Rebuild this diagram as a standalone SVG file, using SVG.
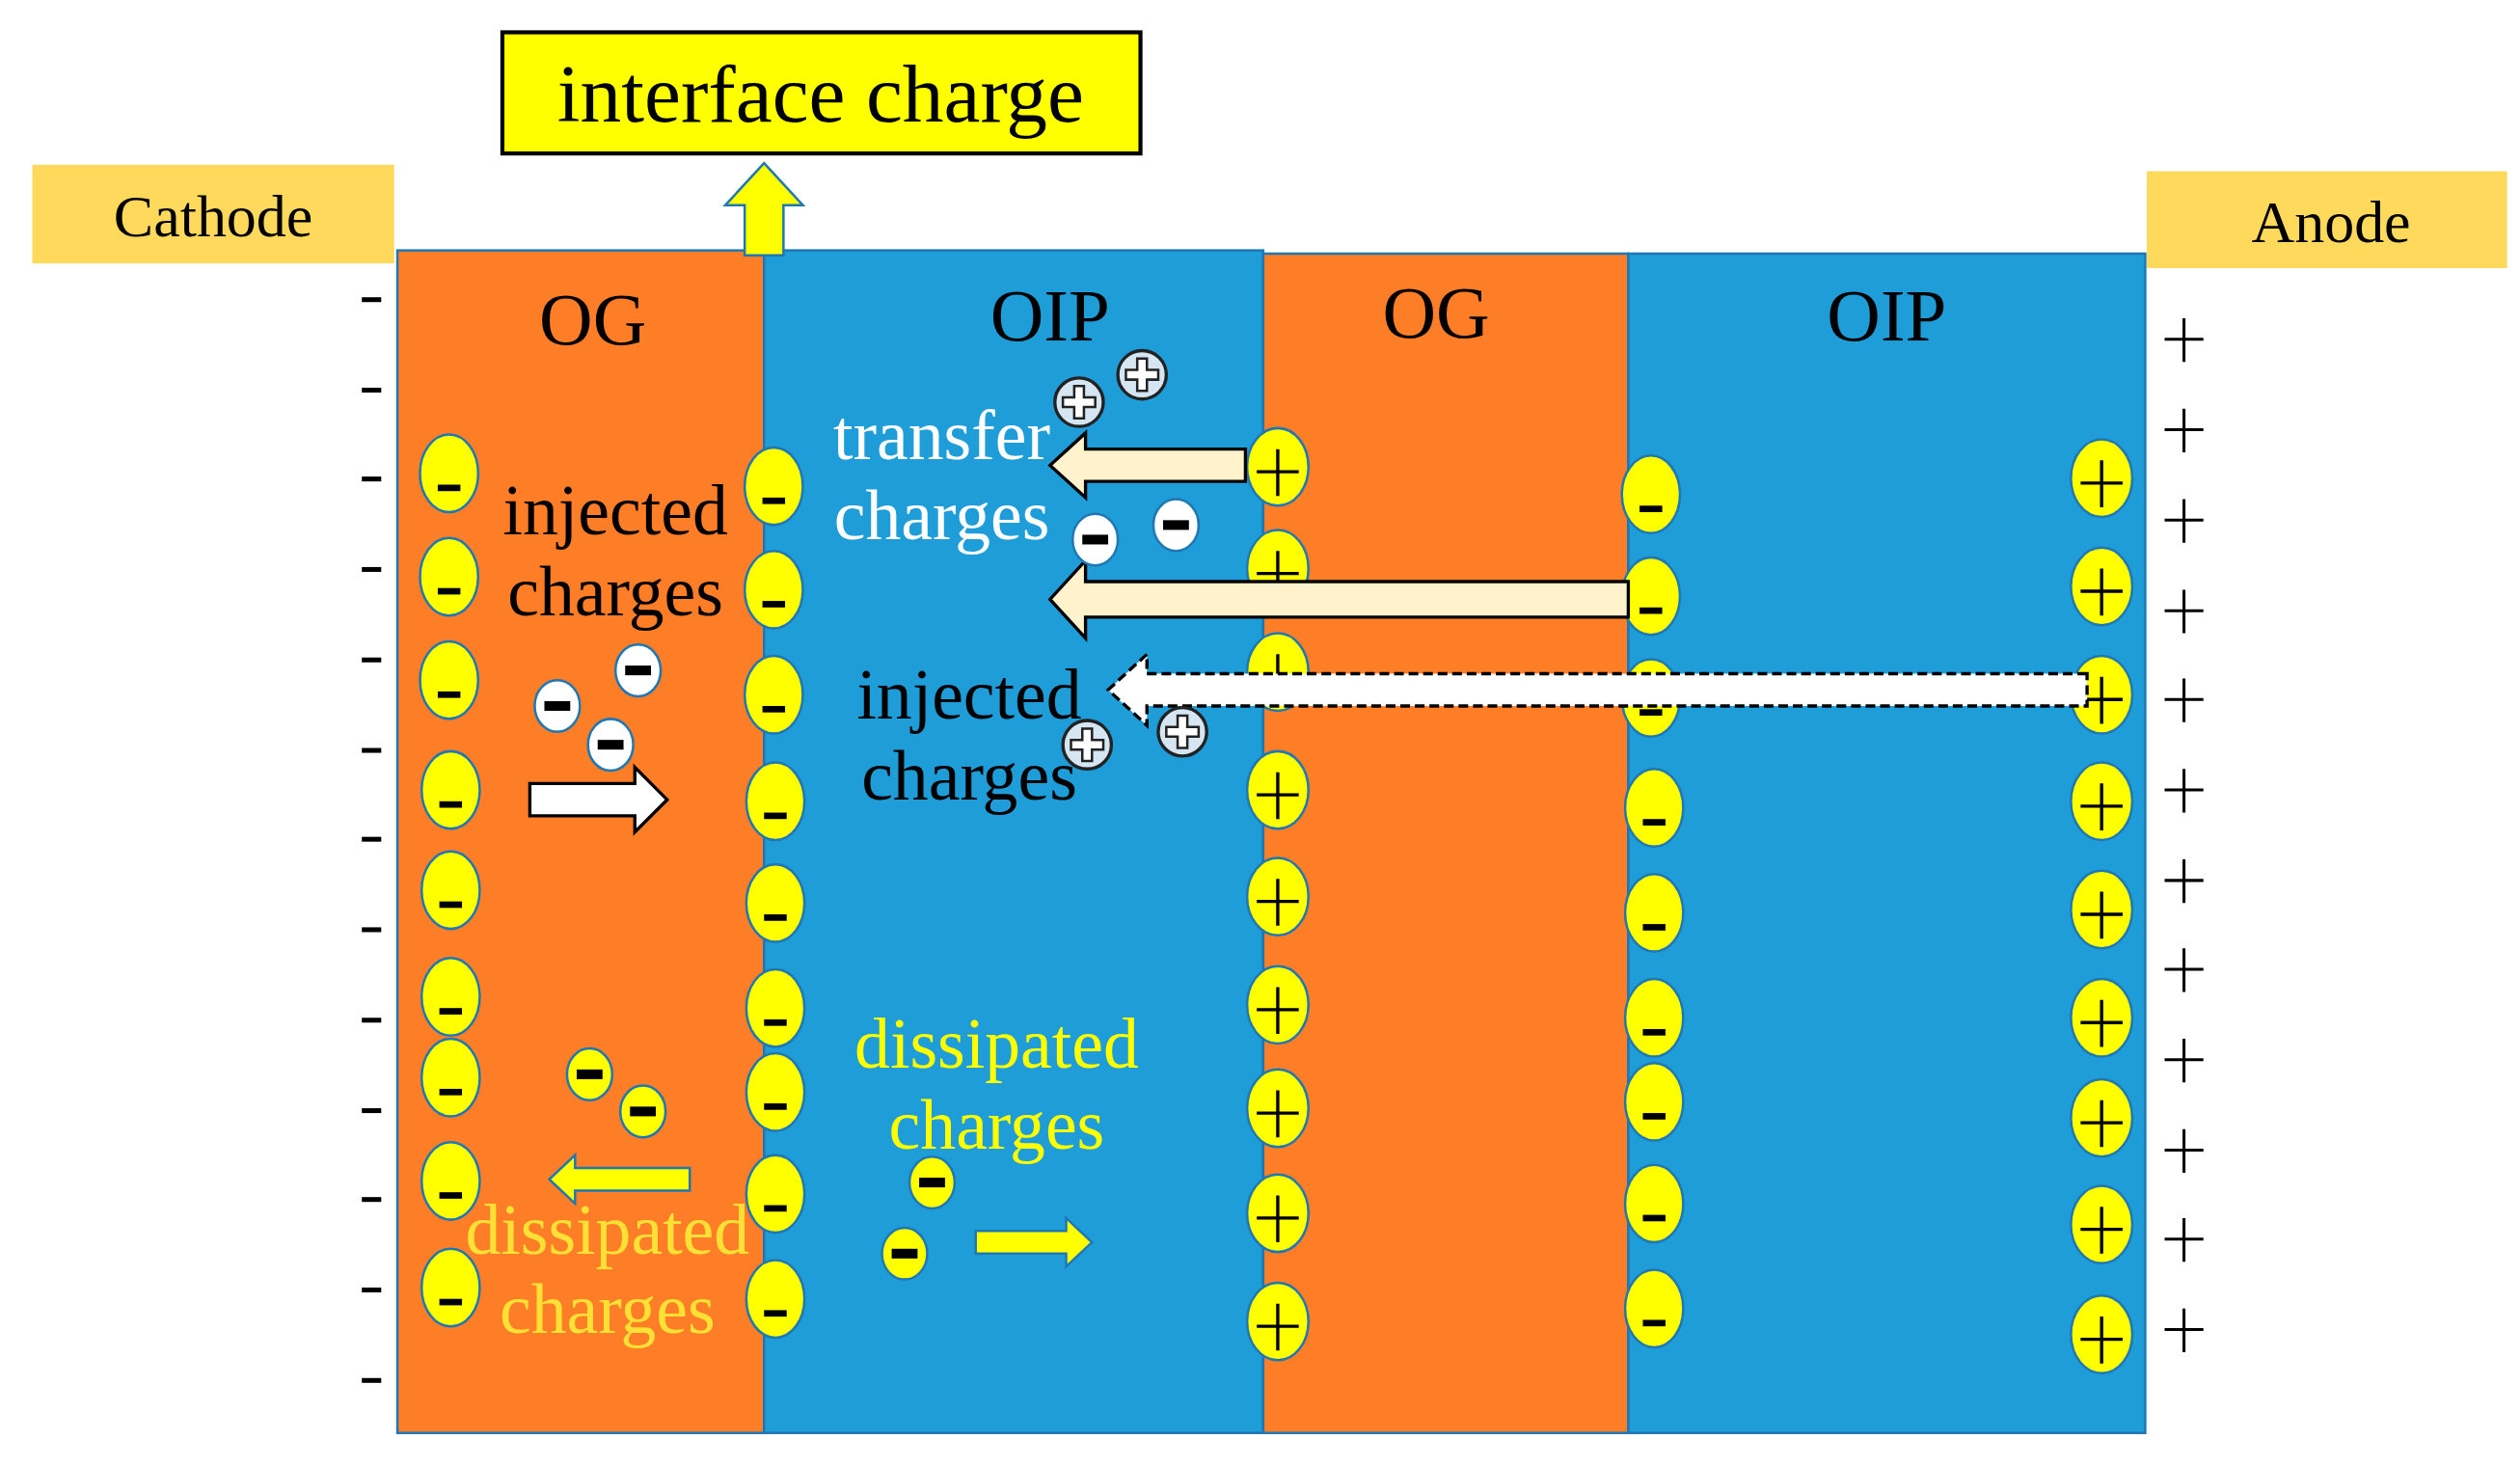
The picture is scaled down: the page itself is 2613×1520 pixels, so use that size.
<svg xmlns="http://www.w3.org/2000/svg" width="2613" height="1520" viewBox="0 0 2613 1520">
<defs>
<style>
text{font-family:"Liberation Serif","Times New Roman",serif;text-anchor:middle}
.og{fill:#FD7E26;stroke:#1F78B4;stroke-width:1.5}
.oip{fill:#1E9DD8;stroke:#1F78B4;stroke-width:1.5}
.ye{fill:#FFFF00;stroke:#1F78B4;stroke-width:1.5}
.dash{fill:#000}
.pl{stroke:#000;stroke-width:2;fill:none}
.wm{fill:#fff;stroke:#1F78B4;stroke-width:1.5}
.gp{fill:#D5E6F2;stroke:#222;stroke-width:2}
.t{font-size:44px}
.h{font-size:46px}
</style>
<g id="m"><ellipse class="ye" cx="0" cy="0" rx="18" ry="24"/><rect class="dash" x="-7" y="7" width="14" height="4"/></g>
<g id="p"><ellipse class="ye" cx="0" cy="0" rx="19" ry="24"/><path class="pl" d="M-13 3H13M0 -11V18"/></g>
<g id="sm"><ellipse class="ye" cx="0" cy="0" rx="14" ry="16"/><rect class="dash" x="-8" y="-3" width="16" height="6"/></g>
<g id="wm"><ellipse class="wm" cx="0" cy="0" rx="14" ry="16"/><rect class="dash" x="-8" y="-3" width="16" height="6"/></g>
<g id="gp"><circle class="gp" cx="0" cy="0" r="15"/><path d="M-3 -10H3V-3H10V3H3V10H-3V3H-10V-3H-3Z" fill="#fff" stroke="#222" stroke-width="1.5"/></g>
</defs>
<rect width="2613" height="1520" fill="#fff"/>
<g transform="scale(1.675)">
<g id="cathode"><rect x="20" y="102" width="224" height="61" fill="#FFD95C"/><text x="132" y="146" style="font-size:37px">Cathode</text></g>
<g id="anode"><rect x="1329" y="106" width="223" height="60" fill="#FFD95C"/><text x="1443" y="150" style="font-size:37px">Anode</text></g>
<g id="interface"><rect x="311" y="20" width="395" height="75" fill="#FFFF00" stroke="#000" stroke-width="2.5"/><text x="508" y="75" style="font-size:51px">interface charge</text></g>
<g id="og1"><rect class="og" x="246" y="155" width="227" height="732"/><text class="h" x="367" y="213">OG</text></g>
<g id="oip1"><rect class="oip" x="473" y="155" width="309" height="732"/><text class="h" x="650" y="211">OIP</text></g>
<g id="og2"><rect class="og" x="782" y="157" width="226" height="730"/><text class="h" x="889" y="209">OG</text></g>
<g id="oip2"><rect class="oip" x="1008" y="157" width="320" height="730"/><text class="h" x="1168" y="211">OIP</text></g>
<g id="cathode-signs" fill="#000">
<rect x="224" y="184" width="12" height="3"/><rect x="224" y="240" width="12" height="3"/><rect x="224" y="295" width="12" height="3"/><rect x="224" y="351" width="12" height="3"/><rect x="224" y="407" width="12" height="3"/><rect x="224" y="463" width="12" height="3"/><rect x="224" y="518" width="12" height="3"/><rect x="224" y="574" width="12" height="3"/><rect x="224" y="630" width="12" height="3"/><rect x="224" y="686" width="12" height="3"/><rect x="224" y="741" width="12" height="3"/><rect x="224" y="797" width="12" height="3"/><rect x="224" y="853" width="12" height="3"/>
</g>
<g id="anode-signs" class="pl" style="stroke-width:1.8">
<path d="M1340 210H1364M1352 197V224M1340 266H1364M1352 253V280M1340 322H1364M1352 309V336M1340 378H1364M1352 365V392M1340 433H1364M1352 420V447M1340 489H1364M1352 476V503M1340 545H1364M1352 532V559M1340 600H1364M1352 587V614M1340 656H1364M1352 643V670M1340 712H1364M1352 699V726M1340 767H1364M1352 754V781M1340 823H1364M1352 810V837"/>
</g>
<g id="charges-og1">
<use href="#m" x="278" y="293"/><use href="#m" x="278" y="357"/><use href="#m" x="278" y="421"/><use href="#m" x="279" y="489"/><use href="#m" x="279" y="551"/><use href="#m" x="279" y="617"/><use href="#m" x="279" y="667"/><use href="#m" x="279" y="731"/><use href="#m" x="279" y="797"/>
<use href="#m" x="479" y="301"/><use href="#m" x="479" y="365"/><use href="#m" x="479" y="430"/><use href="#m" x="480" y="496"/><use href="#m" x="480" y="559"/><use href="#m" x="480" y="624"/><use href="#m" x="480" y="676"/><use href="#m" x="480" y="739"/><use href="#m" x="480" y="804"/>
</g>
<g id="charges-og2">
<use href="#p" x="791" y="289"/><use href="#p" x="791" y="352"/><use href="#p" x="791" y="416"/><use href="#p" x="791" y="489"/><use href="#p" x="791" y="555"/><use href="#p" x="791" y="622"/><use href="#p" x="791" y="686"/><use href="#p" x="791" y="751"/><use href="#p" x="791" y="818"/>
<use href="#m" x="1022" y="306"/><use href="#m" x="1022" y="369"/><use href="#m" x="1022" y="432"/><use href="#m" x="1024" y="500"/><use href="#m" x="1024" y="565"/><use href="#m" x="1024" y="630"/><use href="#m" x="1024" y="682"/><use href="#m" x="1024" y="745"/><use href="#m" x="1024" y="810"/>
<use href="#p" x="1301" y="296"/><use href="#p" x="1301" y="363"/><use href="#p" x="1301" y="430"/><use href="#p" x="1301" y="496"/><use href="#p" x="1301" y="563"/><use href="#p" x="1301" y="630"/><use href="#p" x="1301" y="692"/><use href="#p" x="1301" y="758"/><use href="#p" x="1301" y="826"/>
</g>
<g id="connectors">
<path d="M461 158V127H449L473 101L497 127H485V158Z" fill="#FFFF00" stroke="#1F78B4" stroke-width="1.5"/>
<path d="M771 278H672V268L650 288L672 308V298H771Z" fill="#FFF2CC" stroke="#000" stroke-width="2"/>
<path d="M1008 360H672V347L650 371L672 395V382H1008Z" fill="#FFF2CC" stroke="#000" stroke-width="2"/>
<path d="M1292 417H710V405L686 427L710 449V437H1292Z" fill="#fff" stroke="#000" stroke-width="2" stroke-dasharray="6 3"/>
<path d="M328 485H393V475L413 495L393 515V505H328Z" fill="#fff" stroke="#000" stroke-width="2"/>
<path d="M427 723H356V715L340 730L356 745V737H427Z" fill="#FFFF00" stroke="#1F78B4" stroke-width="1.5"/>
<path d="M604 762H660V754L676 769L660 784V776H604Z" fill="#FFFF00" stroke="#1F78B4" stroke-width="1.5"/>
</g>
<g id="free-charges">
<use href="#wm" x="395" y="415"/><use href="#wm" x="345" y="437"/><use href="#wm" x="378" y="461"/><use href="#wm" x="678" y="334"/><use href="#wm" x="728" y="325"/>
<use href="#gp" x="668" y="249"/><use href="#gp" x="707" y="232"/><use href="#gp" x="673" y="461"/><use href="#gp" x="732" y="453"/>
<use href="#sm" x="365" y="665"/><use href="#sm" x="398" y="688"/><use href="#sm" x="577" y="732"/><use href="#sm" x="560" y="776"/>
</g>
<g id="labels">
<text class="t" x="381" y="331">injected</text><text class="t" x="381" y="381">charges</text>
<text class="t" x="583" y="284" fill="#fff">transfer</text><text class="t" x="583" y="334" fill="#fff">charges</text>
<text class="t" x="600" y="445">injected</text><text class="t" x="600" y="495">charges</text>
<text class="t" x="617" y="661" fill="#FFFF00">dissipated</text><text class="t" x="617" y="711" fill="#FFFF00">charges</text>
<text class="t" x="376" y="776" fill="#FFE135">dissipated</text><text class="t" x="376" y="825" fill="#FFE135">charges</text>
</g>
</g>
</svg>
